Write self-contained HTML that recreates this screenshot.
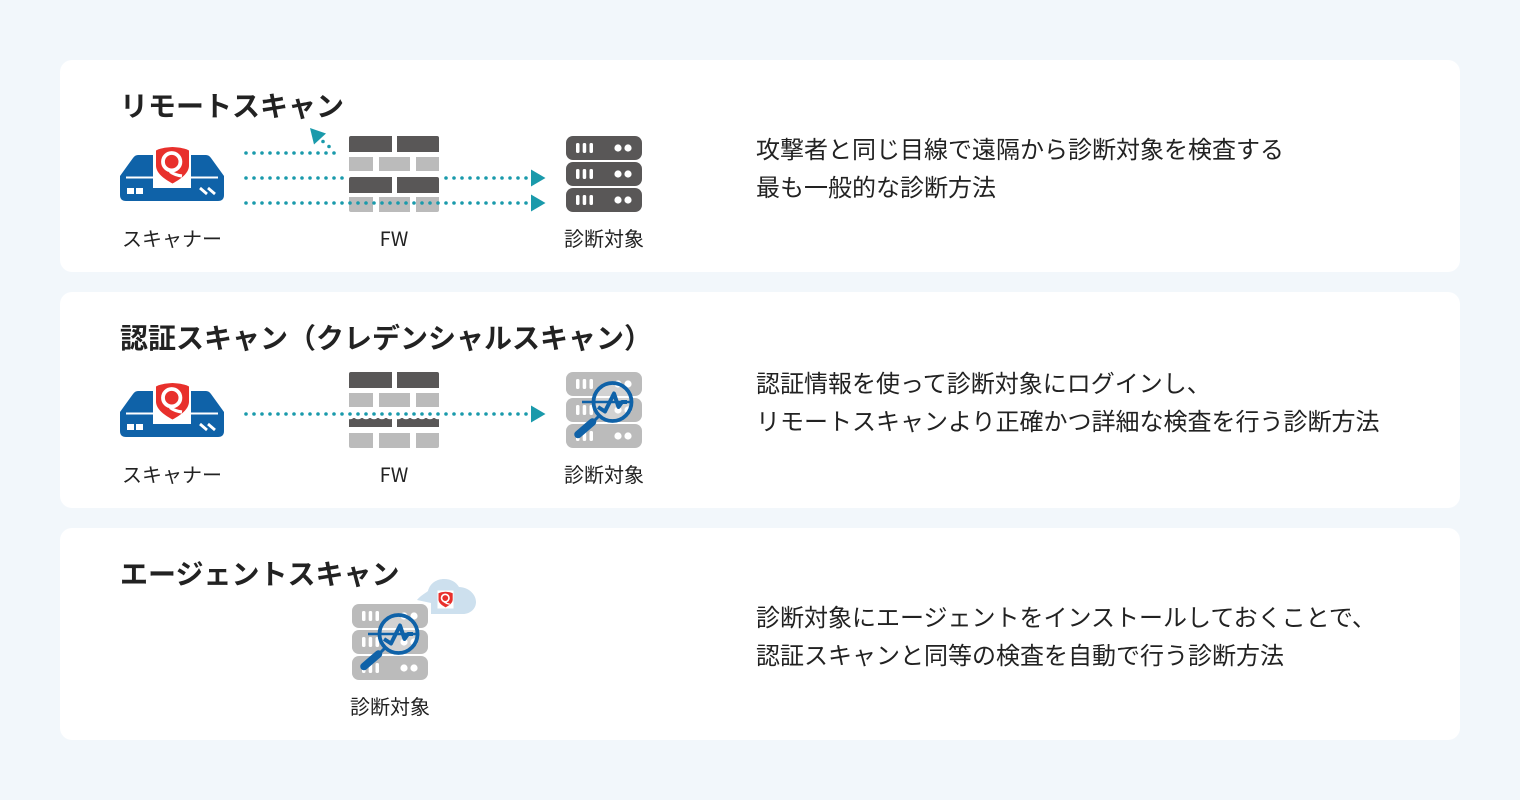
<!DOCTYPE html>
<html lang="ja"><head><meta charset="utf-8"><title>スキャン方式</title>
<style>
html,body{margin:0;padding:0;background:#f2f7fb}
svg{display:block}
text{font-family:"Noto Sans CJK JP","Liberation Sans",sans-serif;fill:#222}
.t{font-size:28px;font-weight:700}
.b{font-size:24px}
.l{font-size:20px;text-anchor:middle}
.d{stroke:#1a9aab;stroke-width:3.6;stroke-linecap:round;stroke-dasharray:0 8;fill:none}
</style></head><body>
<svg xmlns="http://www.w3.org/2000/svg" width="1520" height="800" viewBox="0 0 1520 800">
<defs>
<g id="shield">
<path d="M0,0 C4,-2 8,-3 16.500,-3.500 C25,-3 29,-2 33,0 L33,15 C33,23 24,29 16.500,33 C9,29 0,23 0,15 Z" fill="#e8302c"/>
<circle cx="15.700" cy="11.200" r="8.700" fill="none" stroke="#fff" stroke-width="3.800"/>
<path d="M14,21 C18,24 22,25 26,25.500" fill="none" stroke="#fff" stroke-width="3.200"/>
</g>
<g id="scanner">
<path d="M138,155 H206 Q209,155 211,158 L224,176 V195 Q224,201 218,201 H126 Q120,201 120,195 V176 L133,158 Q135,155 138,155 Z" fill="#0f62a8"/>
<rect x="153" y="150" width="38" height="38" fill="#fff"/>
<rect x="126" y="176.500" width="92" height="2" fill="#fff"/>
<rect x="127" y="188" width="7" height="6" fill="#fff"/><rect x="136" y="188" width="7" height="6" fill="#fff"/>
<path d="M200,188 L207,194 M208,188 L215,194" stroke="#fff" stroke-width="2.800" fill="none"/>
<use href="#shield" x="156" y="150.500"/>
</g>
<g id="srv">
<rect x="0" y="0" width="76" height="24" rx="7"/>
<g fill="#fff"><rect x="10" y="7" width="3.500" height="10" rx="1.500"/><rect x="16.700" y="7" width="3.500" height="10" rx="1.500"/><rect x="23.500" y="7" width="3.500" height="10" rx="1.500"/><circle cx="52" cy="12" r="3.600"/><circle cx="62" cy="12" r="3.600"/></g>
</g>
<g id="rack">
<use href="#srv" y="0"/><use href="#srv" y="26"/><use href="#srv" y="52"/>
</g>
<g id="scanned">
<use href="#rack" fill="#bbb"/>
<circle cx="46.500" cy="30" r="19" fill="#fff" fill-opacity=".35"/>
<path d="M16,30 H67" stroke="#0f62a8" stroke-width="2.600" fill="none"/>
<circle cx="46.500" cy="30" r="19" fill="none" stroke="#0f62a8" stroke-width="3.800"/>
<path d="M32,35 L39,39.500 L48,21.500 L52.500,35 L56,30 H61" fill="none" stroke="#0f62a8" stroke-width="4" stroke-linejoin="round"/>
<path d="M33,44 L27,50" stroke="#0f62a8" stroke-width="3"/>
<path d="M12,62.500 L26.500,50" stroke="#0f62a8" stroke-width="7.500" stroke-linecap="round"/>
</g>
<g id="fwTop" fill="#595757">
<path d="M0,2 Q0,0 2,0 H43 V16 H0 Z"/><path d="M48,0 H88 Q90,0 90,2 V16 H48 Z"/>
</g>
<g id="fwLight" fill="#bbb">
<rect x="0" y="0" width="24" height="14"/><rect x="30" y="0" width="31" height="14"/><rect x="67" y="0" width="23" height="14"/>
</g>
<g id="fwLow" fill="#bbb">
<path d="M0,0 H24 V15 H2 Q0,15 0,13 Z"/><rect x="30" y="0" width="31" height="15"/><path d="M67,0 H90 V13 Q90,15 88,15 H67 Z"/>
</g>
<path id="arrow" d="M0,0 L14.500,8.500 L0,17 Z" fill="#1a9aab"/>
</defs>

<rect width="1520" height="800" fill="#f2f7fb"/>
<rect x="60" y="60" width="1400" height="212" rx="12" fill="#fff"/>
<rect x="60" y="292" width="1400" height="216" rx="12" fill="#fff"/>
<rect x="60" y="528" width="1400" height="212" rx="12" fill="#fff"/>

<!-- Card 1 -->
<text class="t" x="120" y="116">リモートスキャン</text>
<use href="#scanner"/>
<g transform="translate(349,136)">
<use href="#fwTop"/><use href="#fwLight" y="21"/><use href="#fwTop" y="41"/><use href="#fwLow" y="61"/>
</g>
<use href="#rack" x="566" y="136" fill="#595757"/>
<path class="d" d="M246,153 H335"/>
<circle cx="329" cy="146.500" r="1.800" fill="#1a9aab"/><circle cx="323" cy="141.500" r="1.800" fill="#1a9aab"/>
<path d="M310,128 L326,133.500 L314,144.500 Z" fill="#1a9aab"/>
<path class="d" d="M246,178 H344"/>
<path class="d" d="M446,178 H528"/>
<path class="d" d="M246,203 H528"/>
<use href="#arrow" x="531" y="169.500"/>
<use href="#arrow" x="531" y="194.500"/>
<text class="l" x="172" y="246">スキャナー</text>
<text class="l" x="394" y="246">FW</text>
<text class="l" x="604" y="246">診断対象</text>
<text class="b" x="756" y="158">攻撃者と同じ目線で遠隔から診断対象を検査する</text>
<text class="b" x="756" y="196">最も一般的な診断方法</text>

<!-- Card 2 -->
<text class="t" x="120" y="348">認証スキャン（クレデンシャルスキャン）</text>
<use href="#scanner" y="236"/>
<g transform="translate(349,372)">
<use href="#fwTop"/><use href="#fwLight" y="21"/>
<path d="M0,46 H43 V55 H0 Z" fill="#595757"/><path d="M48,46 H90 V55 H48 Z" fill="#595757"/>
<use href="#fwLow" y="61"/>
</g>
<g fill="#fff">
<circle cx="350" cy="414" r="5.300"/><circle cx="358" cy="414" r="5.300"/><circle cx="366" cy="414" r="5.300"/><circle cx="374" cy="414" r="5.300"/><circle cx="382" cy="414" r="5.300"/><circle cx="390" cy="414" r="5.300"/><circle cx="398" cy="414" r="5.300"/><circle cx="406" cy="414" r="5.300"/><circle cx="414" cy="414" r="5.300"/><circle cx="422" cy="414" r="5.300"/><circle cx="430" cy="414" r="5.300"/><circle cx="438" cy="414" r="5.300"/>
</g>
<use href="#scanned" x="566" y="372"/>
<path class="d" d="M246,414 H528"/>
<use href="#arrow" x="531" y="405.500"/>
<text class="l" x="172" y="482">スキャナー</text>
<text class="l" x="394" y="482">FW</text>
<text class="l" x="604" y="482">診断対象</text>
<text class="b" x="756" y="392">認証情報を使って診断対象にログインし、</text>
<text class="b" x="756" y="430">リモートスキャンより正確かつ詳細な検査を行う診断方法</text>

<!-- Card 3 -->
<text class="t" x="120" y="584">エージェントスキャン</text>
<path d="M417,600 C421,595 426,593 428,591 C430,583 437,579 444,579 C451,579 456,582 459,587 C468,587 476,594 476,602 C476,609 470,614 463,614 H431 V603 Z" fill="#cde0ee"/>
<rect x="437.500" y="590.500" width="16" height="18" fill="#fff"/>
<g transform="translate(438.500,593.200) scale(.43)"><use href="#shield"/></g>
<use href="#scanned" x="352" y="604"/>
<text class="l" x="390" y="714">診断対象</text>
<text class="b" x="756" y="626">診断対象にエージェントをインストールしておくことで、</text>
<text class="b" x="756" y="664">認証スキャンと同等の検査を自動で行う診断方法</text>
</svg>
</body></html>
